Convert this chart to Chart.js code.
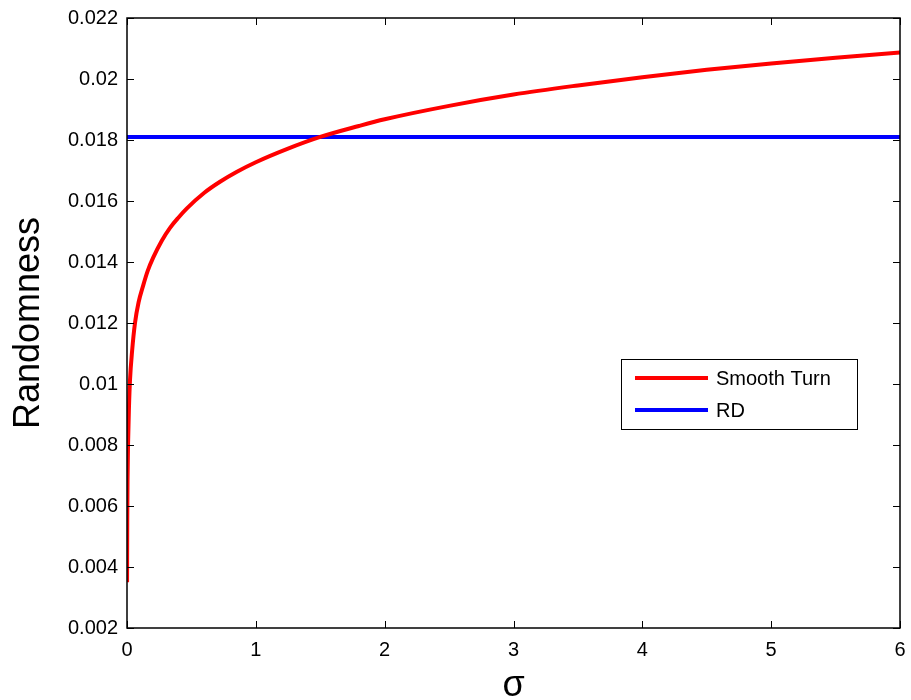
<!DOCTYPE html>
<html>
<head>
<meta charset="utf-8">
<script src="https://cdn.jsdelivr.net/npm/chart.js@4/dist/chart.umd.min.js"></script>
<style>
  html, body { margin: 0; padding: 0; background: #fff; }
  #wrap { width: 911px; height: 700px; position: relative; }
</style>
</head>
<body>
<div id="wrap"><canvas id="c" width="911" height="700"></canvas></div>
<script>
// ---- data ----
const sigma = [0.0005, 0.002, 0.004, 0.008, 0.015, 0.023, 0.04, 0.062, 0.09, 0.127, 0.16, 0.204, 0.27, 0.334, 0.4, 0.463, 0.6, 0.722, 0.85, 1.0, 1.24, 1.5, 1.8, 2.0, 2.5, 3.0, 3.5, 4.0, 4.5, 5.0, 5.5, 6.0];
const smoothTurn = [0.0035, 0.0055, 0.0068, 0.0080, 0.0092, 0.0101, 0.0111, 0.0120, 0.01268, 0.01325, 0.0137, 0.01415, 0.0147, 0.01512, 0.01546, 0.01575, 0.01627, 0.01663, 0.01695, 0.01727, 0.0177, 0.0181, 0.01846, 0.01868, 0.01912, 0.01949, 0.01979, 0.02006, 0.0203, 0.02051, 0.0207, 0.02087];
const rdSigma = [0, 6];
const rdValue = [0.0181, 0.0181];
const xTicks = [0, 1, 2, 3, 4, 5, 6];
const yTicks = [0.002, 0.004, 0.006, 0.008, 0.01, 0.012, 0.014, 0.016, 0.018, 0.02, 0.022];
const yTickLabels = ['0.002', '0.004', '0.006', '0.008', '0.01', '0.012', '0.014', '0.016', '0.018', '0.02', '0.022'];
const seriesNames = ['Smooth Turn', 'RD'];
const xTitle = 'σ';
const yTitle = 'Randomness';

const FONT = 'Arial, "Liberation Sans", Helvetica, sans-serif';

const framePlugin = {
  id: 'frame',
  afterDatasetsDraw(chart) {
    const {ctx, chartArea: a, scales: {x, y}} = chart;
    ctx.save();
    ctx.strokeStyle = '#000';
    ctx.lineWidth = 1;
    const L = 7;
    ctx.beginPath();
    y.ticks.forEach(t => {
      const p = Math.round(y.getPixelForValue(t.value)) + 0.5;
      ctx.moveTo(a.left, p); ctx.lineTo(a.left + L, p);
      ctx.moveTo(a.right, p); ctx.lineTo(a.right - L, p);
    });
    x.ticks.forEach(t => {
      const p = Math.round(x.getPixelForValue(t.value)) + 0.5;
      ctx.moveTo(p, a.bottom); ctx.lineTo(p, a.bottom - L);
      ctx.moveTo(p, a.top); ctx.lineTo(p, a.top + L);
    });
    ctx.stroke();
    ctx.lineWidth = 1.5;
    ctx.strokeRect(a.left, a.top, a.right - a.left, a.bottom - a.top);
    // legend box
    const bx = a.right - 279, by = a.top + 341, bw = 236, bh = 70;
    ctx.fillStyle = '#fff';
    ctx.fillRect(bx, by, bw, bh);
    ctx.lineWidth = 1;
    ctx.strokeRect(bx + 0.5, by + 0.5, bw, bh);
    ctx.font = '20px ' + FONT;
    ctx.textBaseline = 'middle';
    chart.data.datasets.forEach((ds, i) => {
      const cy = by + 19 + i * 32;
      ctx.strokeStyle = ds.borderColor;
      ctx.lineWidth = 4;
      ctx.beginPath();
      ctx.moveTo(bx + 14, cy); ctx.lineTo(bx + 87, cy);
      ctx.stroke();
      ctx.fillStyle = '#000';
      ctx.fillText(ds.label, bx + 95, cy + 1);
    });
    ctx.restore();
  }
};

new Chart(document.getElementById('c'), {
  type: 'line',
  data: {
    datasets: [
      {
        label: seriesNames[0],
        data: sigma.map((s, i) => ({x: s, y: smoothTurn[i]})),
        borderColor: '#ff0000',
        borderWidth: 4,
        pointRadius: 0,
        cubicInterpolationMode: 'monotone',
        fill: false
      },
      {
        label: seriesNames[1],
        data: rdSigma.map((s, i) => ({x: s, y: rdValue[i]})),
        borderColor: '#0000ff',
        borderWidth: 4,
        pointRadius: 0,
        fill: false
      }
    ]
  },
  options: {
    responsive: false,
    animation: false,
    layout: { padding: { left: 0, top: 18, right: 11, bottom: 0 } },
    plugins: { legend: { display: false }, tooltip: { enabled: false } },
    scales: {
      x: {
        type: 'linear',
        min: 0, max: 6,
        afterBuildTicks(s) { s.ticks = xTicks.map(v => ({value: v})); },
        afterFit(s) { s.height = 72; s.paddingLeft = 0; s.paddingRight = 0; },
        grid: { display: false, drawTicks: false },
        border: { display: false },
        ticks: { color: '#000', font: { family: FONT, size: 20 }, padding: 10, maxRotation: 0,
                 callback: v => String(v) },
        title: { display: true, text: xTitle, color: '#000', font: { family: FONT, size: 36, lineHeight: 0.8 }, padding: 0 }
      },
      y: {
        type: 'linear',
        min: 0.002, max: 0.022,
        afterBuildTicks(s) { s.ticks = yTicks.map(v => ({value: v})); },
        afterFit(s) { s.width = 127; s.paddingTop = 0; s.paddingBottom = 0; },
        grid: { display: false, drawTicks: false },
        border: { display: false },
        ticks: { color: '#000', font: { family: FONT, size: 20 }, padding: 9,
                 callback: (v, i) => yTickLabels[i] },
        title: { display: true, text: yTitle, color: '#000', font: { family: FONT, size: 36, lineHeight: 1 }, padding: { top: 11, bottom: 0 } }
      }
    }
  },
  plugins: [framePlugin]
});
</script>
</body>
</html>
